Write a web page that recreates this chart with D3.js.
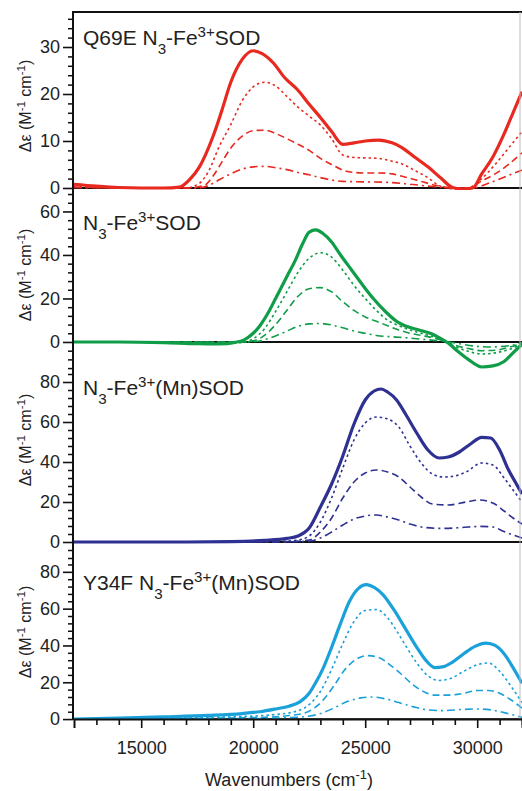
<!DOCTYPE html>
<html>
<head>
<meta charset="utf-8">
<script src="https://cdn.jsdelivr.net/npm/d3@7"></script>
<style>
  body { margin: 0; background: #fff; }
  text { font-family: "Liberation Sans", Arial, sans-serif; fill: #222; }
</style>
</head>
<body>
<div id="chart"></div>
<script>
// [wavenumber cm-1, delta-epsilon M-1 cm-1]
const q69eSolid = [[12000,0.8],[13000,0.4],[14000,0.1],[15000,0],[16000,0],[16700,0.2],[17200,2],[17600,4.5],[18200,10.9],[18600,16.5],[19000,22.5],[19500,27.3],[20000,29.2],[20400,28.6],[20900,26.6],[21400,23.5],[22000,20.8],[22500,17.8],[23000,15],[23500,12],[24000,9.3],[24500,9.6],[25000,10],[25600,10.2],[26200,9.6],[26600,8.7],[27200,6.6],[27800,4.5],[28400,2],[28900,0.1],[29300,-0.2],[29800,0],[30200,3],[30700,6.6],[31200,11.5],[31600,16],[32000,20.5]]
const q69eDot = [[12000,0.3],[15000,0],[17000,0],[17600,1],[18000,3.5],[18500,9],[19000,13.5],[19500,18.5],[20000,21.5],[20500,22.5],[21000,21.7],[21500,19.5],[22000,17.2],[22500,15.3],[23000,13.4],[23500,10.5],[24000,7],[24500,6.5],[25000,6.4],[25600,6.3],[26200,5.7],[26600,5.2],[27300,3.5],[27800,2.2],[28300,0.5],[29000,-0.2],[29600,0],[30200,2],[30800,5],[31400,8.5],[32000,12]]
const q69eDash = [[12000,0.2],[15000,0],[17000,0],[17800,0.5],[18200,2.5],[18600,5.5],[19000,8.5],[19500,11],[20000,12.2],[20500,12.3],[21000,11.6],[21500,10.5],[22000,9.3],[22500,8],[23000,6.3],[23500,5],[24000,3.8],[24500,3.3],[25000,3.2],[25600,3.2],[26200,3],[26800,2.3],[27500,1.4],[28200,0.5],[29000,0],[29600,0],[30200,1.5],[30800,3],[31400,5],[32000,7.5]]
const q69eDashDot = [[12000,0.1],[15000,0],[17500,0],[18000,0.5],[18500,1.8],[19000,3],[19500,4],[20000,4.5],[20500,4.6],[21000,4.3],[21500,3.9],[22000,3.3],[22500,2.8],[23000,2.2],[23500,1.7],[24000,1.4],[25000,1.3],[26000,1.2],[27000,0.8],[28000,0.3],[29000,0],[29800,0],[30500,1],[31200,2.3],[32000,3.8]]

const feSolid = [[12000,0],[14000,0],[16000,-0.3],[17500,-0.8],[18500,-0.9],[19200,-0.2],[19600,1],[20000,4],[20300,7.5],[20700,14],[21000,20],[21500,30],[21900,38],[22200,45],[22500,50.5],[22800,51.5],[23100,50],[23500,46],[23900,40],[24400,33],[24900,26],[25400,19.5],[25900,14],[26400,9.5],[26900,7],[27400,5.5],[27900,4],[28300,2],[28700,-0.5],[29100,-4],[29600,-8],[30200,-11.5],[30700,-11],[31200,-9],[31600,-5],[32000,-1]]
const feDot = [[12000,0],[17000,0],[19500,-0.3],[20000,1.5],[20500,6],[21000,14],[21500,23],[22000,32],[22500,38.5],[23000,41],[23500,39],[24000,33],[24500,26],[25000,20],[25500,14.5],[26000,10],[26500,7.5],[27000,5.5],[27500,4],[28000,2.5],[28500,0.5],[29000,-2],[29500,-4],[30200,-5.5],[30800,-5],[31400,-3.5],[32000,-1]]
const feDash = [[12000,0],[19500,0],[20000,0.5],[20500,3],[21000,8],[21500,14.5],[22000,21],[22500,24.5],[23000,25],[23500,23],[24000,18.5],[24500,14.5],[25000,11.5],[25500,9.5],[26000,7.5],[26500,5.5],[27000,4],[27500,3],[28000,2],[28500,0.5],[29000,-1.5],[29600,-3],[30200,-4],[30800,-3.8],[31400,-2.5],[32000,-0.5]]
const feDashDot = [[12000,0],[19500,0],[20200,0.3],[20800,2],[21500,5],[22000,7.2],[22500,8.3],[23000,8.5],[23500,7.8],[24000,6.5],[24500,5],[25000,4],[25500,3],[26500,2.2],[27500,1.3],[28500,0.3],[29200,-0.8],[29800,-1.8],[30500,-2.3],[31200,-2],[32000,-0.5]]

const mnSolid = [[12000,0],[17000,0],[19000,0.2],[20500,0.8],[21500,1.8],[22000,3],[22500,7],[23000,17.5],[23500,29],[24000,43],[24500,59],[25000,71],[25400,75.5],[25700,76.5],[26000,75],[26400,71],[26800,64],[27300,54.5],[27800,46],[28300,42],[28700,42.5],[29200,45],[29700,49],[30200,52.3],[30600,52],[31000,46],[31400,36],[31700,30],[32000,24]]
const mnDot = [[12000,0],[21000,0.3],[22000,1],[22500,3],[23000,10],[23500,22],[24000,37],[24500,51],[25000,59.5],[25500,62.5],[26000,61.5],[26500,57.5],[27000,48],[27500,39.5],[28000,34],[28500,32.5],[29000,33],[29500,35],[30200,39.5],[30700,38.5],[31200,32],[31600,26],[32000,20]]
const mnDash = [[12000,0],[21500,0.2],[22500,1],[23000,5],[23500,12],[24000,22],[24500,30],[25000,34.5],[25500,36],[26000,35],[26500,32.5],[27000,27.5],[27500,22.5],[28000,19],[28700,18.5],[29500,20],[30100,21],[30700,19.5],[31200,15.5],[31600,12],[32000,9]]
const mnDashDot = [[12000,0],[21500,0.1],[22500,0.5],[23000,2],[23500,5],[24000,8.5],[24500,11.5],[25000,13],[25500,13.5],[26000,12.5],[26500,11],[27000,9],[27700,7.2],[28500,6.8],[29300,7.2],[30100,7.8],[30700,7.5],[31200,5.2],[31600,3.5],[32000,2]]

const y34fSolid = [[12000,0],[14000,0.5],[16000,1.2],[18000,2],[19500,3],[20300,4],[21000,5.5],[21600,7],[22100,9.5],[22500,14],[22800,20],[23100,27],[23500,39],[23900,52],[24300,64],[24700,71],[25050,73],[25400,71.5],[25800,67.5],[26300,59],[26800,49],[27300,39],[27700,32],[28100,28],[28500,28.5],[28900,31],[29400,35.5],[29900,39.5],[30400,41.3],[30800,40],[31200,35.5],[31600,28],[32000,19.5]]
const y34fDot = [[12000,0],[16000,0.5],[19000,1.2],[21000,2.5],[22000,4.5],[22600,9],[23000,15],[23500,27],[24000,41],[24500,53],[25000,59],[25500,59.5],[26000,55],[26400,48],[26800,40],[27300,30.5],[27800,23.5],[28300,21],[28800,22],[29400,26],[30000,29.5],[30500,30.5],[31000,26],[31500,18],[32000,9]]
const y34fDash = [[12000,0],[20000,0.8],[22000,2.5],[22600,5],[23100,10],[23600,18],[24100,27],[24600,32.5],[25100,34.5],[25600,33.5],[26100,29.5],[26600,24.5],[27100,19],[27600,15],[28100,13],[28700,13],[29400,14],[30000,15.5],[30500,15.5],[31000,14],[31500,10.5],[32000,6]]
const y34fDashDot = [[12000,0],[20000,0.3],[22000,1],[23000,3],[23600,6],[24200,9.5],[24800,11.5],[25300,12],[25900,11],[26500,9],[27200,6.5],[27800,5],[28500,4.6],[29300,5.2],[30000,5.5],[30600,5],[31200,3.5],[32000,1]]

const xMajorTicks = [15000, 20000, 25000, 30000]
const panelTitles = [
  ["Q69E N", ["3", "sub"], "-Fe", ["3+", "super"], "SOD"],
  ["N", ["3", "sub"], "-Fe", ["3+", "super"], "SOD"],
  ["N", ["3", "sub"], "-Fe", ["3+", "super"], "(Mn)SOD"],
  ["Y34F N", ["3", "sub"], "-Fe", ["3+", "super"], "(Mn)SOD"]
]
const yTickValues = [[0, 10, 20, 30], [0, 20, 40, 60], [0, 20, 40, 60, 80], [0, 20, 40, 60, 80]]

const W = 522, H = 791
const axisX = 73

// line styles: solid + three dashed traces per panel
const lineStyles = [
  { width: 3.2, dash: null },
  { width: 1.6, dash: "2.5,3" },
  { width: 1.6, dash: "7,4" },
  { width: 1.6, dash: "8,4,2,4" }
]

// panel layout (pixel extents and y domains)
const panels = [
  { top: 12,  bottom: 190, ymin: -0.43, ymax: 37.45, minorStep: 2, color: "#e8291f",
    series: [q69eSolid, q69eDot, q69eDash, q69eDashDot], titleY: 45, yTitleC: 106 },
  { top: 191, bottom: 372, ymin: -13.8, ymax: 69.4, minorStep: 4, color: "#0f9d48",
    series: [feSolid, feDot, feDash, feDashDot], titleY: 230, yTitleC: 275 },
  { top: 373, bottom: 562, ymin: -10, ymax: 84.5, minorStep: 4, color: "#2e3192",
    series: [mnSolid, mnDot, mnDash, mnDashDot], titleY: 395, yTitleC: 440 },
  { top: 563, bottom: 720, ymin: -0.5, ymax: 84.8, minorStep: 4, color: "#1ba1d9",
    series: [y34fSolid, y34fDot, y34fDash, y34fDashDot], titleY: 590, yTitleC: 632 }
]

const svg = d3.select("#chart").append("svg")
  .attr("width", W)
  .attr("height", H)

const xScale = d3.scaleLinear().domain([12000, 32000]).range([74, 522])

const addRich = (parent, parts) => {
  parts.forEach(p => {
    if (typeof p === "string") {
      parent.append("tspan").text(p)
    } else {
      parent.append("tspan")
        .attr("baseline-shift", p[1])
        .attr("font-size", "72%")
        .text(p[0])
    }
  })
}

panels.forEach((p, i) => {
  const yScale = d3.scaleLinear().domain([p.ymin, p.ymax]).range([p.bottom, p.top])
  const g = svg.append("g").attr("class", "panel panel-" + i)

  // clip
  const clipId = "clip" + i
  svg.append("clipPath").attr("id", clipId)
    .append("rect")
    .attr("x", xScale(12000)).attr("y", p.top)
    .attr("width", xScale(32000) - xScale(12000)).attr("height", p.bottom - p.top)

  // zero line
  g.append("line")
    .attr("x1", axisX).attr("x2", W)
    .attr("y1", yScale(0)).attr("y2", yScale(0))
    .attr("stroke", "#111").attr("stroke-width", 1.8)

  // y axis: minor then major ticks
  const minors = d3.range(Math.ceil(p.ymin / p.minorStep) * p.minorStep, p.ymax, p.minorStep)
    .filter(v => !yTickValues[i].includes(v))
  g.append("g")
    .attr("transform", "translate(" + axisX + ",0)")
    .call(d3.axisLeft(yScale).tickValues(minors).tickSize(5).tickFormat(""))
    .call(a => a.select(".domain").remove())
    .call(a => a.selectAll("line").attr("stroke", "#111").attr("stroke-width", 1.5))
  g.append("g")
    .attr("transform", "translate(" + axisX + ",0)")
    .call(d3.axisLeft(yScale).tickValues(yTickValues[i]).tickSize(10).tickPadding(3))
    .call(a => a.select(".domain").remove())
    .call(a => a.selectAll("line").attr("stroke", "#111").attr("stroke-width", 1.6))
    .call(a => a.selectAll("text").attr("font-size", 18).attr("fill", "#333"))

  // curves, faint traces first
  const line = d3.line()
    .x(d => xScale(d[0]))
    .y(d => yScale(d[1]))
    .curve(d3.curveMonotoneX)
  const curves = g.append("g").attr("clip-path", "url(#" + clipId + ")")
  p.series.slice().reverse().forEach((s, k) => {
    const st = lineStyles[p.series.length - 1 - k]
    curves.append("path")
      .datum(s)
      .attr("d", line)
      .attr("fill", "none")
      .attr("stroke", p.color)
      .attr("stroke-width", st.width)
      .attr("stroke-dasharray", st.dash)
      .attr("stroke-linejoin", "round")
  })

  // panel title
  const title = g.append("text")
    .attr("x", 83).attr("y", p.titleY)
    .attr("font-size", 21)
  addRich(title, panelTitles[i])

  // y axis title
  const yt = g.append("text")
    .attr("transform", "translate(31," + p.yTitleC + ") rotate(-90)")
    .attr("text-anchor", "middle")
    .attr("font-size", 16)
    .attr("fill", "#333")
  addRich(yt, ["Δε (M", ["-1", "super"], " cm", ["-1", "super"], ")"])
})

// frame: left axis, top edge, faint right edge
svg.append("line").attr("x1", axisX).attr("x2", axisX).attr("y1", 11).attr("y2", 720)
  .attr("stroke", "#111").attr("stroke-width", 2)
svg.append("line").attr("x1", axisX).attr("x2", W).attr("y1", 12).attr("y2", 12)
  .attr("stroke", "#111").attr("stroke-width", 2)
svg.append("line").attr("x1", 520).attr("x2", 520).attr("y1", 12).attr("y2", 719)
  .attr("stroke", "#bbb").attr("stroke-width", 1)

// x axis
const xAxisY = panels[3].bottom - 1
svg.append("g")
  .attr("transform", "translate(0," + xAxisY + ")")
  .call(d3.axisBottom(xScale).tickValues(d3.range(13000, 32001, 1000).filter(v => !xMajorTicks.includes(v))).tickSize(6).tickFormat(""))
  .call(a => a.select(".domain").remove())
  .call(a => a.selectAll("line").attr("stroke", "#111").attr("stroke-width", 1.6))
svg.append("g")
  .attr("transform", "translate(0," + xAxisY + ")")
  .call(d3.axisBottom(xScale).tickValues(xMajorTicks).tickSize(9).tickPadding(13).tickFormat(d3.format("d")))
  .call(a => a.select(".domain").attr("stroke", "#111").attr("stroke-width", 2))
  .call(a => a.selectAll("line").attr("stroke", "#111").attr("stroke-width", 1.6))
  .call(a => a.selectAll("text").attr("font-size", 18).attr("fill", "#333"))

const xt = svg.append("text")
  .attr("x", 289).attr("y", 786)
  .attr("text-anchor", "middle")
  .attr("font-size", 18)
  .attr("fill", "#333")
addRich(xt, ["Wavenumbers (cm", ["-1", "super"], ")"])
</script>
</body>
</html>
